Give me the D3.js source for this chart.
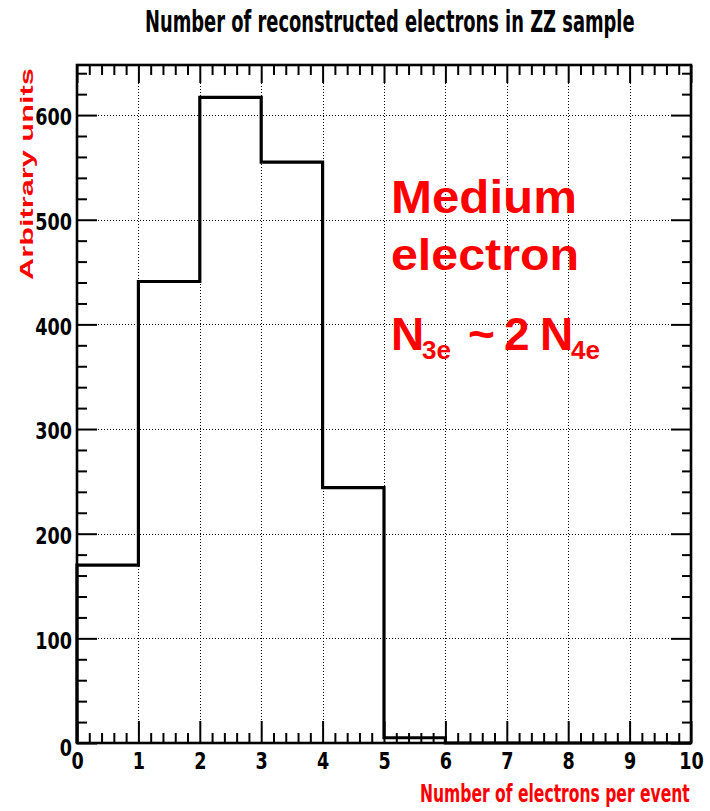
<!DOCTYPE html>
<html>
<head>
<meta charset="utf-8">
<script src="https://cdn.jsdelivr.net/npm/d3@7"></script>
<style>
  html, body { margin: 0; padding: 0; background: #fff; }
  svg { display: block; }
</style>
</head>
<body>
<svg id="chart" width="710" height="811"></svg>
<script>
// Histogram contents: number of reconstructed electrons per event
const binEdges = [0, 1, 2, 3, 4, 5, 6, 7, 8, 9, 10];
const binCounts = [170, 441, 617, 555, 244, 5, 0, 0, 0, 0];
const xMajorTicks = [0, 1, 2, 3, 4, 5, 6, 7, 8, 9, 10];
const yMajorTicks = [0, 100, 200, 300, 400, 500, 600];
const titleText = "Number of reconstructed electrons in ZZ sample";
const xTitle = "Number of electrons per event";
const yTitle = "Arbitrary units";
const noteLines = ["Medium", "electron"];

const W = 710, H = 811;
const frame = { left: 77, right: 691, top: 65, bottom: 743 };
const yMax = d3.max(binCounts) * 1.05;

const svg = d3.select("#chart");
const x = d3.scaleLinear().domain([0, 10]).range([frame.left, frame.right]);
const y = d3.scaleLinear().domain([0, yMax]).range([frame.bottom, frame.top]);

const narrow = "'Liberation Sans Narrow', 'DejaVu Sans Condensed', 'Arial Narrow', sans-serif";
const wide = "'Liberation Sans', Arial, Helvetica, sans-serif";

const xMinor = d3.range(0, 10.001, 0.2).map(v => +v.toFixed(1)).filter(v => !xMajorTicks.includes(v));
const yMinor = d3.range(0, yMax, 20).filter(v => !yMajorTicks.includes(v));

// squeeze a text horizontally so it spans the given width, anchored at (x0, y0)
function fitText(sel, x0, y0, width, rotate) {
  const w = sel.node().getComputedTextLength();
  const k = width / w;
  sel.attr("x", 0).attr("y", 0)
    .attr("transform", `translate(${x0},${y0})${rotate ? ` rotate(${rotate})` : ""} scale(${k},1)`);
}

// dotted grid
const grid = svg.append("g").attr("stroke", "#000").attr("stroke-width", 1)
  .attr("stroke-dasharray", "1,2").attr("shape-rendering", "crispEdges");
grid.selectAll("line.gx").data(xMajorTicks.slice(1, -1)).join("line")
  .attr("x1", d => Math.round(x(d)) + 0.5).attr("x2", d => Math.round(x(d)) + 0.5)
  .attr("y1", frame.top).attr("y2", frame.bottom);
grid.selectAll("line.gy").data(yMajorTicks.slice(1)).join("line")
  .attr("x1", frame.left).attr("x2", frame.right)
  .attr("y1", d => Math.round(y(d)) + 0.5).attr("y2", d => Math.round(y(d)) + 0.5);

// axes with ticks pointing into the frame
function styleAxis(g) {
  g.select(".domain").remove();
  g.selectAll(".tick line").attr("stroke", "#000").attr("stroke-width", 2);
  g.selectAll("text").attr("fill", "#000").attr("font-family", narrow)
    .attr("font-weight", "bold").attr("font-size", 23);
}

// bottom
svg.append("g").attr("transform", `translate(0,${frame.bottom})`)
  .call(d3.axisBottom(x).tickValues(xMinor).tickSize(-10).tickFormat(""))
  .call(styleAxis);
const bx = svg.append("g").attr("transform", `translate(0,${frame.bottom})`)
  .call(d3.axisBottom(x).tickValues(xMajorTicks).tickSize(-22).tickPadding(10).tickFormat(d3.format("d")))
  .call(styleAxis);
bx.selectAll(".tick text").attr("transform", "scale(0.85,1)");

// top
svg.append("g").attr("transform", `translate(0,${frame.top})`)
  .call(d3.axisTop(x).tickValues(xMinor).tickSize(-10).tickFormat(""))
  .call(styleAxis);
svg.append("g").attr("transform", `translate(0,${frame.top})`)
  .call(d3.axisTop(x).tickValues(xMajorTicks).tickSize(-18).tickFormat(""))
  .call(styleAxis);

// left
svg.append("g").attr("transform", `translate(${frame.left},0)`)
  .call(d3.axisLeft(y).tickValues(yMinor).tickSize(-10).tickFormat(""))
  .call(styleAxis);
const ly = svg.append("g").attr("transform", `translate(${frame.left},0)`)
  .call(d3.axisLeft(y).tickValues(yMajorTicks).tickSize(-20).tickPadding(6).tickFormat(d3.format("d")))
  .call(styleAxis);
ly.selectAll(".tick text").attr("transform", "scale(0.85,1)").attr("dy", "0.42em");
ly.selectAll(".tick").filter(d => d === 0).select("text").attr("dy", "0.55em");

// right
svg.append("g").attr("transform", `translate(${frame.right},0)`)
  .call(d3.axisRight(y).tickValues(yMinor).tickSize(-9).tickFormat(""))
  .call(styleAxis);
svg.append("g").attr("transform", `translate(${frame.right},0)`)
  .call(d3.axisRight(y).tickValues(yMajorTicks).tickSize(-20).tickFormat(""))
  .call(styleAxis);

// histogram outline (step)
const pts = [[binEdges[0], 0]];
binCounts.forEach((c, i) => { pts.push([binEdges[i], c]); pts.push([binEdges[i + 1], c]); });
pts.push([binEdges[binEdges.length - 1], 0]);
svg.append("path")
  .attr("d", d3.line().x(d => x(d[0])).y(d => y(d[1]))(pts))
  .attr("fill", "none").attr("stroke", "#000").attr("stroke-width", 3.2)
  .attr("stroke-linejoin", "miter");

// frame
svg.append("rect")
  .attr("x", frame.left).attr("y", frame.top)
  .attr("width", frame.right - frame.left).attr("height", frame.bottom - frame.top)
  .attr("fill", "none").attr("stroke", "#000").attr("stroke-width", 2.6);

// title
svg.append("text").text(titleText)
  .attr("font-family", narrow).attr("font-weight", "bold").attr("font-size", 31)
  .attr("fill", "#000")
  .call(fitText, 145, 32, 490);

// axis titles
svg.append("text").text(xTitle)
  .attr("font-family", narrow).attr("font-weight", "bold").attr("font-size", 24)
  .attr("fill", "#ff0000")
  .call(fitText, 420, 802, 270);

svg.append("text").text(yTitle)
  .attr("font-family", wide).attr("font-weight", "bold").attr("font-size", 19)
  .attr("fill", "#ff0000")
  .call(fitText, 33, 280, 212, -90);

// annotation
const note = svg.append("g").attr("fill", "#ff0000")
  .attr("font-family", wide).attr("font-weight", "bold");
note.append("text").text(noteLines[0]).attr("font-size", 46)
  .call(fitText, 391, 213, 186);
note.append("text").text(noteLines[1]).attr("font-size", 45)
  .call(fitText, 391, 270, 188);

const rel = note.append("text").attr("y", 350).attr("font-size", 46);
rel.append("tspan").attr("x", 391).text("N");
rel.append("tspan").attr("x", 422).attr("y", 359).attr("font-size", 26).text("3e");
rel.append("tspan").attr("x", 468).attr("y", 350).text("~");
rel.append("tspan").attr("x", 504).attr("y", 350).text("2");
rel.append("tspan").attr("x", 540).attr("y", 350).text("N");
rel.append("tspan").attr("x", 571).attr("y", 359).attr("font-size", 26).text("4e");
</script>
</body>
</html>
